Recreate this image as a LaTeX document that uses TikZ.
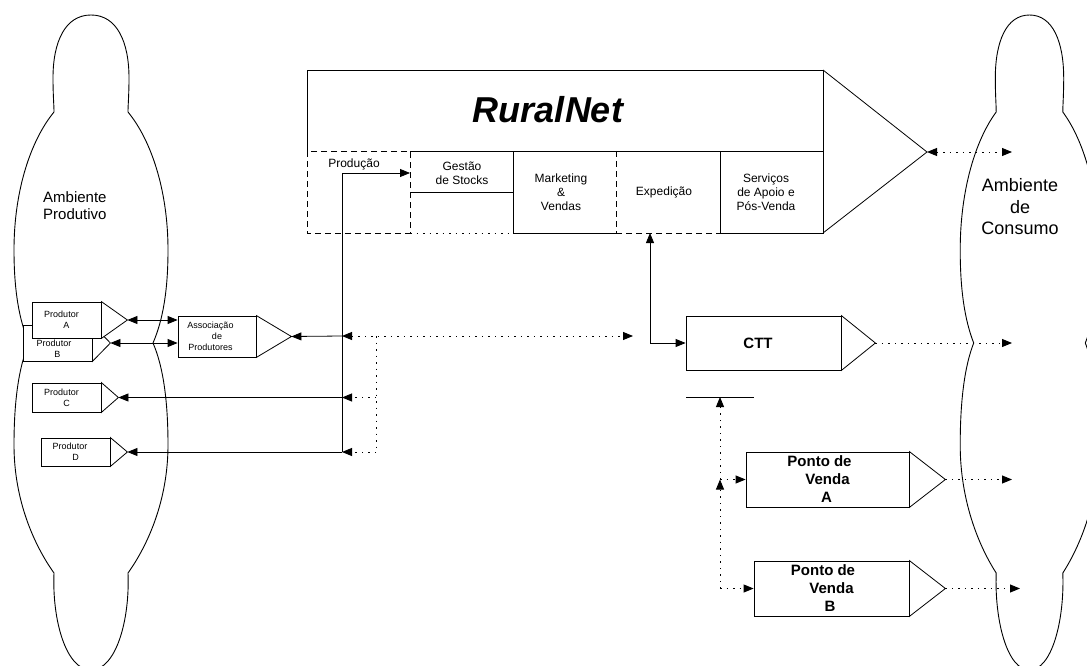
\documentclass[tikz,border=0pt]{standalone}
\usepackage{fontspec}
\setmainfont{Liberation Sans}
\usetikzlibrary{arrows.meta}
\tikzset{
  boxst/.style={draw=black, line width=0.8pt, fill=white, inner sep=0pt, align=center},
  boxln/.style={draw=black, line width=0.8pt, fill=white},
  ln/.style={draw=black, line width=0.8pt},
  dotln/.style={draw=black, line width=0.9pt, dash pattern=on 1.5pt off 5pt},
  dashln/.style={draw=black, line width=0.8pt, dash pattern=on 6pt off 4pt},
  cloudst/.style={draw=black, line width=0.9pt},
  celltxt/.style={font=\fontsize{12}{14}\selectfont, align=center, inner sep=0pt},
  smalltxt/.style={font=\fontsize{9}{11}\selectfont, align=center, inner sep=0pt},
}
\newcommand\drawcloud[2]{%
  \draw[cloudst] (#1,15)
    .. controls ({#1-26*#2},15) and ({#1-38*#2},42) .. ({#1-38*#2},78)
    .. controls ({#1-38*#2},95) and ({#1-37*#2},105) .. ({#1-37*#2},112)
    .. controls ({#1-60*#2},140) and ({#1-77*#2},190) .. ({#1-77*#2},250)
    .. controls ({#1-77*#2},290) and ({#1-72*#2},320) .. ({#1-62*#2},343)
    .. controls ({#1-72*#2},366) and ({#1-77*#2},400) .. ({#1-77*#2},445)
    .. controls ({#1-77*#2},500) and ({#1-57*#2},545) .. ({#1-37*#2},573)
    .. controls ({#1-39*#2},620) and ({#1-25*#2},670) .. (#1,670)
    .. controls ({#1+25*#2},670) and ({#1+39*#2},620) .. ({#1+37*#2},573)
    .. controls ({#1+57*#2},545) and ({#1+77*#2},500) .. ({#1+77*#2},445)
    .. controls ({#1+77*#2},400) and ({#1+72*#2},366) .. ({#1+62*#2},343)
    .. controls ({#1+72*#2},320) and ({#1+77*#2},290) .. ({#1+77*#2},250)
    .. controls ({#1+77*#2},190) and ({#1+60*#2},140) .. ({#1+37*#2},112)
    .. controls ({#1+37*#2},105) and ({#1+38*#2},95) .. ({#1+38*#2},78)
    .. controls ({#1+38*#2},42) and ({#1+26*#2},15) .. (#1,15) -- cycle;
}
\newcommand\pbox[8]{%
  \node[boxst, minimum width=#4pt, minimum height=#5pt, font={#7}] (#1) at (#2,#3) {#8};
  \coordinate (#1-tip) at ([xshift=#6pt]#1.east);
  \filldraw[boxln] (#1.north east) -- (#1-tip) -- (#1.south east) -- cycle;
}
\begin{document}
\begin{tikzpicture}[x=1pt, y=-1pt, >={Triangle[length=10pt,width=8pt]}]
\useasboundingbox (0,0) rectangle (1087,666);
\fill[white] (0,0) rectangle (1087,666);
\begin{scope}
  \clip (0,0) rectangle (1087,666);
  \drawcloud{91}{1}
  \drawcloud{1029.5}{0.9}
\end{scope}

% cloud labels
\node[font=\fontsize{15}{17}\selectfont, align=left, anchor=west, inner sep=0pt] (ambP) at (43,206) {Ambiente\\Produtivo};
\node[font=\fontsize{18}{21.5}\selectfont, align=center, inner sep=0pt] (ambC) at (1020,207) {Ambiente\\de\\Consumo};

% RuralNet block
\coordinate (rn-tip) at (927,152);
\coordinate (rn-out) at (1012,152);
\draw[ln] (307,151) -- (307,70) -- (823,70) -- (823,233);
\draw[ln] (823,70) -- (rn-tip) -- (823,233);
\node[font=\fontsize{36}{40}\selectfont\bfseries\itshape, inner sep=0pt] (rn) at (548,110) {RuralNet};
% cells
\draw[dashln] (307,151) rectangle (410,233);
\draw[ln] (410,151) -- (513,151);
\draw[ln] (410,192) -- (513,192);
\draw[dotln] (410,233) -- (513,233);
\draw[ln] (616,151) -- (513,151) -- (513,233) -- (616,233);
\draw[dashln] (616,151) -- (616,233);
\draw[ln] (616,151) -- (720,151);
\draw[dashln] (616,233) -- (720,233);
\draw[ln] (720,151) rectangle (823,233);
\node[celltxt] (t-prod) at (354,164) {Produção};
\node[celltxt] (t-gest) at (462,173) {Gestão\\de Stocks};
\node[celltxt] (t-mkt) at (561,192) {Marketing\\\&\\Vendas};
\node[celltxt] (t-exp) at (664,192) {Expedição};
\node[celltxt] (t-serv) at (766,192) {Serviços\\de Apoio e\\Pós-Venda};

% producer boxes
\pbox{pB}{57.5}{343}{69}{36}{18}{\fontsize{9}{11}\selectfont}{}
\pbox{pA}{66.5}{320}{69}{36}{26}{\fontsize{9}{11}\selectfont}{Produtor\hspace*{10pt}\\A}
\node[smalltxt] (pB-t) at (57.5,348.5) {Produtor\hspace*{7pt}\\B};
\pbox{pC}{66.5}{397.5}{69}{29}{17}{\fontsize{9}{11}\selectfont}{Produtor\hspace*{10pt}\\C}
\pbox{pD}{75.5}{452}{69}{28}{17}{\fontsize{9}{11}\selectfont}{Produtor\hspace*{11pt}\\D}
\pbox{assoc}{217}{336.5}{78}{41}{35}{\fontsize{9}{11}\selectfont}{Associação\hspace*{13pt}\\de\hspace*{14pt}\\Produtores\hspace*{13pt}}

% distribution boxes
\pbox{ctt}{763.5}{343}{155}{54}{34}{\fontsize{15}{18}\selectfont\bfseries}{CTT\hspace*{11pt}}
\pbox{pvA}{827.5}{479.5}{163}{55}{36}{\fontsize{15}{18}\selectfont\bfseries}{Ponto de\hspace*{16pt}\\Venda\hspace*{13pt}\\A\hspace*{2pt}}
\pbox{pvB}{831.5}{588.5}{155}{55}{36}{\fontsize{15}{18}\selectfont\bfseries}{Ponto de\hspace*{17pt}\\Venda\hspace*{13pt}\\B\hspace*{3pt}}

% coordinates
\coordinate (j1) at (342,336);
\coordinate (j2) at (342,397.5);
\coordinate (j3) at (342,452);
\coordinate (jtop) at (342,173);
\coordinate (gw) at (410,173);
\coordinate (d1) at (376,336);
\coordinate (d3) at (376,452);
\coordinate (dEnd) at (633,336);
\coordinate (e1) at (650,233);
\coordinate (ctt-out) at (1012,343);
\coordinate (bar-l) at (686,397);
\coordinate (bar-r) at (754,397);
\coordinate (bar-m) at (720,397);
\coordinate (v-a) at (720,479.5);
\coordinate (v-b) at (720,588.5);
\coordinate (pvA-out) at (1012,479.5);
\coordinate (pvB-out) at (1020,588.5);

% solid connectors
\draw[ln,<->] (pA-tip) -- (assoc.west |- pA-tip);
\draw[ln,<->] (pB-tip) -- (assoc.west |- pB-tip);
\draw[ln,->] (j1) -- (assoc-tip);
\draw[ln,->] (j2) -- (pC-tip);
\draw[ln,->] (j3) -- (pD-tip);
\draw[ln,->] (j3) -- (jtop) -- (gw);
\draw[ln,<->] (e1) |- (ctt.west);
\draw[ln] (bar-l) -- (bar-r);

% dotted connectors
\draw[dotln,<->] (j1) -- (dEnd);
\draw[dotln] (d1) -- (d3);
\draw[dotln,->] (d1 |- j2) -- (j2);
\draw[dotln,->] (d3) -- (j3);
\draw[dotln,<->] (rn-tip) -- (rn-out);
\draw[dotln,->] (ctt-tip) -- (ctt-out);
\draw[dotln,->] (v-a) -- (bar-m);
\draw[dotln,->] (v-b) -- (v-a);
\draw[dotln,->] (v-a) -- (pvA.west |- v-a);
\draw[dotln,->] (v-b) -- (pvB.west |- v-b);
\draw[dotln,->] (pvA-tip) -- (pvA-out);
\draw[dotln,->] (pvB-tip) -- (pvB-out);
\end{tikzpicture}
\end{document}
